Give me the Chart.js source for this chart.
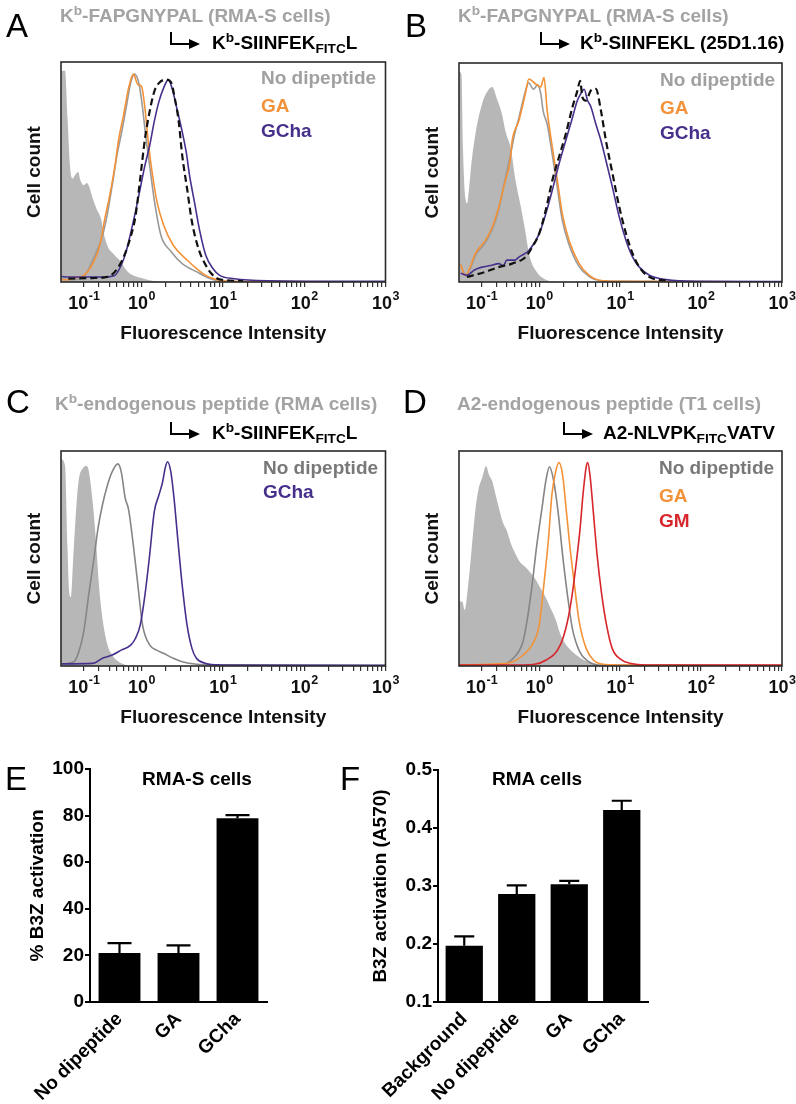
<!DOCTYPE html>
<html>
<head>
<meta charset="utf-8">
<script src="https://cdn.jsdelivr.net/npm/chart.js@4.4.1/dist/chart.umd.min.js"></script>
<style>
  body { margin:0; background:#fff; }
  #fig { position:relative; width:796px; height:1104px; overflow:hidden; font-family:'Liberation Sans', Arial, Helvetica, sans-serif; }
  canvas { position:absolute; }
  .t { position:absolute; white-space:nowrap; line-height:1; font-weight:bold; font-size:19px; transform:translateY(-50%); color:#000; }
  .c { transform:translate(-50%,-50%); }
  .letter { position:absolute; font-size:33px; line-height:1; transform:translateY(-50%); }
  .grey { color:#a3a3a3; }
  sup { font-size:0.72em; vertical-align:0; position:relative; top:-0.5em; }
  sub { font-size:0.72em; vertical-align:0; position:relative; top:0.28em; }
  .arr { position:absolute; width:19px; height:11px; border-left:2px solid #000; border-bottom:2px solid #000; }
  .arr::after { content:''; position:absolute; left:17px; bottom:-6px; border-left:11px solid #000; border-top:5px solid transparent; border-bottom:5px solid transparent; }
</style>
</head>
<body>
<div id="fig">
  <canvas id="cA" width="400" height="345" style="left:0;top:0"></canvas>
  <canvas id="cB" width="398" height="345" style="left:398px;top:0"></canvas>
  <canvas id="cC" width="400" height="345" style="left:0;top:384px"></canvas>
  <canvas id="cD" width="398" height="345" style="left:398px;top:384px"></canvas>
  <canvas id="cE" width="300" height="354" style="left:0;top:750px"></canvas>
  <canvas id="cF" width="350" height="354" style="left:330px;top:750px"></canvas>

  <div class="letter" style="left:6px;top:25px">A</div>
  <div class="t grey" style="left:60px;top:15px">K<sup>b</sup>-FAPGNYPAL (RMA-S cells)</div>
  <div class="arr" style="left:170px;top:32px"></div>
  <div class="t" style="left:212px;top:42px">K<sup>b</sup>-SIINFEK<sub>FITC</sub>L</div>
  <div class="t" style="left:261px;top:77px;color:#a0a0a0">No dipeptide</div>
  <div class="t" style="left:261px;top:105px;color:#f39239">GA</div>
  <div class="t" style="left:261px;top:130px;color:#47308c">GCha</div>

  <div class="letter" style="left:405px;top:25px">B</div>
  <div class="t grey" style="left:458px;top:15px">K<sup>b</sup>-FAPGNYPAL (RMA-S cells)</div>
  <div class="arr" style="left:540px;top:32px"></div>
  <div class="t" style="left:580px;top:42px">K<sup>b</sup>-SIINFEKL (25D1.16)</div>
  <div class="t" style="left:660px;top:79px;color:#a0a0a0">No dipeptide</div>
  <div class="t" style="left:660px;top:107px;color:#f39239">GA</div>
  <div class="t" style="left:660px;top:132px;color:#47308c">GCha</div>

  <div class="letter" style="left:6px;top:401px">C</div>
  <div class="t grey" style="left:55px;top:403px">K<sup>b</sup>-endogenous peptide (RMA cells)</div>
  <div class="arr" style="left:170px;top:422px"></div>
  <div class="t" style="left:212px;top:432px">K<sup>b</sup>-SIINFEK<sub>FITC</sub>L</div>
  <div class="t" style="left:263px;top:467px;color:#787878">No dipeptide</div>
  <div class="t" style="left:263px;top:491px;color:#47308c">GCha</div>

  <div class="letter" style="left:403px;top:401px">D</div>
  <div class="t grey" style="left:457px;top:403px">A2-endogenous peptide (T1 cells)</div>
  <div class="arr" style="left:563px;top:422px"></div>
  <div class="t" style="left:603px;top:432px">A2-NLVPK<sub>FITC</sub>VATV</div>
  <div class="t" style="left:659px;top:467px;color:#787878">No dipeptide</div>
  <div class="t" style="left:659px;top:495px;color:#f39239">GA</div>
  <div class="t" style="left:659px;top:520px;color:#d7262c">GM</div>

  <div class="letter" style="left:5px;top:778px">E</div>
  <div class="t c" style="left:197px;top:778px">RMA-S cells</div>
  <div class="letter" style="left:340px;top:778px">F</div>
  <div class="t c" style="left:537px;top:778px">RMA cells</div>
</div>
<script>
// histogram curves: [display log units, % of max count]
const A_FILL  = [[-0.99,0],[-0.985,96],[-0.94,96],[-0.91,75],[-0.88,53],[-0.85,47],[-0.81,49],[-0.78,50],[-0.75,46],[-0.71,44],[-0.67,45],[-0.64,43],[-0.6,38],[-0.55,33],[-0.5,29],[-0.45,20],[-0.4,15],[-0.35,13],[-0.3,11],[-0.25,9],[-0.2,6],[-0.15,4],[-0.1,3],[0,1.8],[0.1,0.8],[0.2,0.2],[0.3,0]];
const A_NODIP = [[-0.98,1.5],[-0.9,1],[-0.8,1.2],[-0.71,2.3],[-0.6,10],[-0.48,21],[-0.42,31],[-0.36,44],[-0.3,58],[-0.25,67],[-0.19,79],[-0.13,91],[-0.086,94.5],[-0.03,90],[0.01,80],[0.05,67],[0.1,53],[0.16,36.5],[0.24,21],[0.36,14],[0.5,8.4],[0.68,4.6],[0.85,1.5],[0.96,0.5],[1.2,0.2],[3,0.1]];
const A_GA    = [[-0.98,1],[-0.9,1],[-0.83,1.8],[-0.71,3],[-0.59,9],[-0.51,17],[-0.45,29],[-0.39,39.5],[-0.33,52],[-0.28,65],[-0.22,76],[-0.16,88],[-0.1,94.5],[-0.045,89.7],[0,89],[0.042,79],[0.088,62],[0.13,50],[0.19,36.5],[0.27,26],[0.39,16.7],[0.56,10],[0.68,6],[0.79,3],[0.91,1.2],[1.02,0.4],[1.3,0.2],[3,0.1]];
const A_GCHA  = [[-0.98,2.5],[-0.9,2.3],[-0.7,2.3],[-0.48,2.3],[-0.33,3],[-0.25,7.6],[-0.19,13.7],[-0.13,22.8],[-0.074,32],[-0.016,42.5],[0.042,53],[0.1,62],[0.157,73],[0.214,82],[0.27,88],[0.33,92],[0.376,88],[0.434,79],[0.49,70],[0.55,59],[0.59,48.6],[0.65,36.5],[0.71,24.3],[0.79,12.2],[0.88,6],[0.96,3],[1.14,1.5],[1.55,0.6],[3,0.3]];
const A_DASH  = [[-0.9,1.5],[-0.6,1.8],[-0.42,2.3],[-0.25,9],[-0.13,21],[-0.074,30],[-0.016,47],[0.042,65],[0.1,77.5],[0.157,86.6],[0.214,90.4],[0.3,92],[0.36,91],[0.417,82],[0.457,73],[0.5,57.7],[0.56,42.5],[0.62,27.4],[0.7,15.2],[0.79,7.6],[0.88,3],[0.96,1.2],[1.25,0.4]];

const B_FILL  = [[-1,0],[-0.99,96],[-0.96,95],[-0.94,60],[-0.91,38],[-0.89,36],[-0.86,45],[-0.84,53],[-0.785,68],[-0.7,82],[-0.62,88],[-0.58,89],[-0.52,83.5],[-0.465,77.5],[-0.41,68],[-0.35,61],[-0.29,46],[-0.23,35],[-0.17,23],[-0.12,12],[-0.03,4.6],[0.06,1.5],[0.15,0.3],[0.25,0]];
const B_NODIP = [[-0.97,8],[-0.912,3],[-0.85,6],[-0.788,12],[-0.664,18],[-0.58,24],[-0.5,33],[-0.42,47],[-0.36,57],[-0.3,68],[-0.25,75],[-0.17,87],[-0.13,91],[-0.07,88],[-0.02,90],[0.02,86],[0.05,78],[0.1,72],[0.163,58],[0.225,43],[0.287,28],[0.37,17],[0.494,7],[0.618,2.5],[0.742,0.7],[1,0.3],[3,0.1]];
const B_GA    = [[-0.97,8],[-0.912,3],[-0.85,7],[-0.788,13],[-0.664,19],[-0.58,25],[-0.5,34],[-0.42,46],[-0.36,55],[-0.333,64.6],[-0.25,73.7],[-0.17,86],[-0.127,92.7],[-0.043,90.4],[0.019,89],[0.06,93.4],[0.1,78],[0.163,61.5],[0.225,46.4],[0.287,31],[0.37,19],[0.494,8.4],[0.618,3],[0.742,0.8],[1,0.3],[3,0.1]];
const B_GCHA  = [[-0.97,4],[-0.892,3.1],[-0.8,5.5],[-0.706,6.8],[-0.6,7.5],[-0.5,8.4],[-0.44,7.5],[-0.4,10],[-0.3,10],[-0.251,11.4],[-0.127,14.4],[0,22],[0.081,31],[0.163,42],[0.246,54],[0.329,64.6],[0.411,75],[0.473,83],[0.515,86],[0.556,88],[0.597,83],[0.639,80],[0.701,72],[0.763,64.6],[0.825,55.5],[0.907,43],[0.99,29.6],[1.073,19],[1.155,11.4],[1.238,6.8],[1.362,3.1],[1.57,1.1],[1.98,0.3],[3,0.2]];
const B_DASH  = [[-0.892,2.3],[-0.664,4.6],[-0.499,6.8],[-0.333,8.4],[-0.168,11.4],[-0.085,16],[0,22.1],[0.081,32.7],[0.163,46.4],[0.246,57.2],[0.329,67.6],[0.411,79.8],[0.473,87.4],[0.506,91.9],[0.535,84.3],[0.577,82.8],[0.639,87.4],[0.701,88.2],[0.763,78.3],[0.825,64.6],[0.907,49.4],[0.99,34.2],[1.073,22.1],[1.155,12.9],[1.238,6.8],[1.362,2.3],[1.6,0.5]];

const C_FILL  = [[-0.99,0],[-0.985,96],[-0.94,93],[-0.91,55],[-0.89,35],[-0.87,32],[-0.84,50],[-0.8,75],[-0.77,87],[-0.72,92],[-0.68,93],[-0.65,91],[-0.6,76],[-0.56,58],[-0.52,36],[-0.48,22],[-0.42,10],[-0.36,5],[-0.28,2],[-0.19,0.5],[-0.1,0]];
const C_NODIP = [[-0.98,1],[-0.83,2],[-0.77,6.7],[-0.71,16],[-0.65,33],[-0.59,48.5],[-0.535,64],[-0.48,75],[-0.42,84],[-0.36,90.4],[-0.29,94],[-0.25,90.4],[-0.2,78],[-0.16,73],[-0.1,56],[-0.045,37.7],[0.013,19],[0.1,9.8],[0.186,7.4],[0.27,5.9],[0.39,3.6],[0.5,2],[0.68,0.8],[0.85,0.5],[3,0.2]];
const C_GCHA  = [[-0.98,1],[-0.6,1.2],[-0.48,3.6],[-0.36,5.1],[-0.25,7.4],[-0.13,9.8],[-0.074,12.9],[-0.016,19],[0.042,33],[0.1,51.6],[0.157,71.8],[0.214,79.5],[0.26,85.7],[0.29,91.9],[0.32,95],[0.36,90.4],[0.4,78],[0.445,59.4],[0.5,37.7],[0.56,19],[0.62,8.2],[0.675,3.6],[0.79,1.2],[0.96,0.5],[3,0.3]];

const D_FILL  = [[-0.99,0],[-0.985,30],[-0.95,30],[-0.92,26],[-0.87,40],[-0.83,56],[-0.78,75],[-0.75,82],[-0.7,88],[-0.655,93],[-0.62,89],[-0.58,86],[-0.54,80],[-0.5,74],[-0.45,67],[-0.4,63],[-0.35,57],[-0.29,52],[-0.23,48],[-0.17,46],[-0.1,43],[-0.04,40],[0.02,36],[0.08,32],[0.14,27],[0.2,22],[0.26,15],[0.33,10],[0.4,7],[0.5,4],[0.6,2],[0.73,0.5],[0.85,0]];
const D_NODIP = [[-0.99,0.5],[-0.5,0.5],[-0.32,3.6],[-0.2,11.3],[-0.145,22],[-0.087,37.7],[-0.03,56],[0.03,72],[0.087,87],[0.128,92.7],[0.175,87],[0.233,72],[0.29,51.6],[0.35,33],[0.41,17.5],[0.5,6.7],[0.61,2],[0.73,0.5],[3,0.2]];
const D_GA    = [[-0.99,0.5],[-0.5,1],[-0.32,2],[-0.2,5],[-0.087,9.8],[0,19],[0.058,37.7],[0.116,59.4],[0.157,79.5],[0.204,90.4],[0.245,94.6],[0.29,88.8],[0.337,71.8],[0.378,56.3],[0.436,37.7],[0.495,20.6],[0.58,8.2],[0.67,2.8],[0.79,0.8],[0.96,0.5],[3,0.2]];
const D_GM    = [[-0.99,0.5],[-0.2,0.5],[0.087,2.8],[0.262,9.8],[0.349,20.6],[0.407,33],[0.465,50],[0.506,64],[0.541,79.5],[0.582,92.7],[0.6,94.6],[0.628,88.8],[0.669,71.8],[0.716,51.6],[0.774,33],[0.833,19],[0.902,8.2],[1.018,2.8],[1.134,1.2],[1.31,0.5],[3,0.4]];

// x axis: labelled decades (base 10, exponent) and the minor ticks between them
const XTICK_MAJOR = [-0.71, 0, 1, 2, 3];
const XTICK_EXP   = ['-1', '0', '1', '2', '3'];

// bar panels
const E_CATS = ['No dipeptide', 'GA', 'GCha'];
const E_VALUES = [21.0, 21.0, 78.9];
const E_ERR = [4.3, 3.3, 1.3];
const F_CATS = ['Background', 'No dipeptide', 'GA', 'GCha'];
const F_VALUES = [0.197, 0.286, 0.303, 0.431];
const F_ERR = [0.016, 0.015, 0.006, 0.016];

const GREY_FILL = '#b7b7b7', ORANGE = '#f39239', PURPLE = '#47308c', RED = '#d7262c';
const FONT = 'Liberation Sans, Arial, Helvetica, sans-serif';

Chart.defaults.animation = false;
Chart.defaults.events = [];
Chart.defaults.font.family = FONT;
Chart.defaults.plugins.legend.display = false;
Chart.defaults.plugins.tooltip.enabled = false;

const pts = a => a.map(([x, y]) => ({x, y}));

let xticks = [];
for (let d = -1; d < 3; d++) {
  for (let k = 1; k < 10; k++) {
    const v = d + Math.log10(k);
    if (v > -0.98) xticks.push(v);
  }
}
xticks.push(3);
xticks = xticks.filter(v => !XTICK_MAJOR.some(m => Math.abs(m - v) < 0.02)).concat(XTICK_MAJOR).sort((a, b) => a - b);

const frame = {
  id: 'frame',
  afterDatasetsDraw(chart) {
    const {ctx, chartArea: a} = chart;
    ctx.save();
    ctx.strokeStyle = '#2a2a2a';
    ctx.lineWidth = 1.6;
    ctx.strokeRect(a.left, a.top, a.right - a.left, a.bottom - a.top);
    ctx.restore();
  }
};

// "10" with a raised exponent under each labelled decade tick
const decadeLabels = {
  id: 'decadeLabels',
  afterDraw(chart) {
    const {ctx} = chart;
    const xs = chart.scales.x;
    const base = chart.chartArea.bottom;
    const big = 'bold 18px ' + FONT, small = 'bold 12.5px ' + FONT;
    ctx.save();
    ctx.fillStyle = '#111';
    ctx.textBaseline = 'alphabetic';
    ctx.textAlign = 'left';
    XTICK_MAJOR.forEach((v, i) => {
      ctx.font = big;
      const w1 = ctx.measureText('10').width;
      ctx.font = small;
      const w2 = ctx.measureText(XTICK_EXP[i]).width;
      const x0 = xs.getPixelForValue(v) - (w1 + w2) / 2;
      ctx.font = big;
      ctx.fillText('10', x0, base + 27);
      ctx.font = small;
      ctx.fillText(XTICK_EXP[i], x0 + w1 + 0.5, base + 18);
    });
    ctx.restore();
  }
};

function line(data, color, order, extra) {
  return Object.assign({data: pts(data), borderColor: color, borderWidth: 1.6, pointRadius: 0,
    cubicInterpolationMode: 'monotone', fill: false, order}, extra || {});
}
function area(data) {
  return {data: pts(data), backgroundColor: GREY_FILL, borderWidth: 0, pointRadius: 0,
    cubicInterpolationMode: 'monotone', fill: 'origin', order: 9};
}

function histogram(id, datasets, padTop, padRight) {
  new Chart(document.getElementById(id), {
    type: 'line',
    data: {datasets},
    options: {
      responsive: false,
      layout: {padding: {top: padTop, right: padRight, left: 0, bottom: 0}},
      scales: {
        x: {
          type: 'linear', min: -0.99, max: 3,
          afterBuildTicks: s => { s.ticks = xticks.map(v => ({value: v})); },
          afterFit: s => { s.height = 63; },
          ticks: {autoSkip: false, maxRotation: 0, minRotation: 0, callback: () => ''},
          grid: {drawOnChartArea: false, tickLength: 5, color: '#333', lineWidth: 1.2},
          border: {display: false},
          title: {display: true, text: 'Fluorescence Intensity', color: '#111',
            font: {size: 19, weight: 'bold'}, padding: {top: 0, bottom: 0}}
        },
        y: {
          type: 'linear', min: 0, max: 100,
          afterFit: s => { s.width = 61; },
          ticks: {display: false},
          grid: {display: false},
          border: {display: false},
          title: {display: true, text: 'Cell count', color: '#111',
            font: {size: 19, weight: 'bold'}, padding: {top: 23, bottom: 0}}
        }
      }
    },
    plugins: [frame, decadeLabels]
  });
}

histogram('cA', [
  line(A_DASH, '#111', 1, {borderDash: [7, 4], borderWidth: 2.2}),
  line(A_GCHA, PURPLE, 2),
  line(A_GA, ORANGE, 3),
  line(A_NODIP, '#999', 4),
  area(A_FILL)
], 62, 14.5);

histogram('cB', [
  line(B_DASH, '#111', 1, {borderDash: [7, 4], borderWidth: 2.2}),
  line(B_GCHA, PURPLE, 2),
  line(B_GA, ORANGE, 3),
  line(B_NODIP, '#999', 4),
  area(B_FILL)
], 63, 14);

histogram('cC', [
  line(C_GCHA, PURPLE, 2),
  line(C_NODIP, '#858585', 4),
  area(C_FILL)
], 67, 14.5);

histogram('cD', [
  line(D_GM, RED, 1),
  line(D_GA, ORANGE, 2),
  line(D_NODIP, '#858585', 3),
  area(D_FILL)
], 67, 14);

const errorBars = {
  id: 'errorBars',
  afterDatasetsDraw(chart, args, opts) {
    const {ctx} = chart;
    const ys = chart.scales.y;
    const vals = chart.data.datasets[0].data;
    ctx.save();
    ctx.strokeStyle = '#000';
    ctx.lineWidth = 2.2;
    chart.getDatasetMeta(0).data.forEach((bar, i) => {
      const top = ys.getPixelForValue(vals[i] + opts.err[i]);
      ctx.beginPath();
      ctx.moveTo(bar.x, bar.y);
      ctx.lineTo(bar.x, top);
      ctx.moveTo(bar.x - opts.cap / 2, top);
      ctx.lineTo(bar.x + opts.cap / 2, top);
      ctx.stroke();
    });
    ctx.restore();
  }
};

function barChart(id, cats, vals, err, yopts, yTitle, yWidth, titlePad, padTop, padRight, cap) {
  new Chart(document.getElementById(id), {
    type: 'bar',
    data: {labels: cats, datasets: [{data: vals, backgroundColor: '#000', borderWidth: 0,
      barPercentage: 0.71, categoryPercentage: 1}]},
    options: {
      responsive: false,
      layout: {padding: {top: padTop, right: padRight, left: 0, bottom: 0}},
      plugins: {errorBars: {err, cap}},
      scales: {
        x: {
          afterFit: s => { s.height = 102; },
          grid: {display: false, drawTicks: false},
          border: {color: '#000', width: 2},
          ticks: {autoSkip: false, minRotation: 45, maxRotation: 45, padding: 6, color: '#000',
            font: {size: 19, weight: 'bold'}}
        },
        y: Object.assign({
          afterFit: s => { s.width = yWidth; },
          grid: {drawOnChartArea: false, tickLength: 5, color: '#000', lineWidth: 2},
          border: {color: '#000', width: 2},
          title: {display: true, text: yTitle, color: '#000', font: {size: 19, weight: 'bold'},
            padding: {top: titlePad, bottom: 0}}
        }, yopts)
      }
    },
    plugins: [errorBars]
  });
}

barChart('cE', E_CATS, E_VALUES, E_ERR,
  {min: 0, max: 100, ticks: {stepSize: 20, padding: 1, color: '#000', font: {size: 19, weight: 'bold'}}},
  '% B3Z activation', 90, 26, 19, 33, 24);

barChart('cF', F_CATS, F_VALUES, F_ERR,
  {min: 0.1, max: 0.5, ticks: {stepSize: 0.1, padding: 1, color: '#000', font: {size: 19, weight: 'bold'},
    callback: v => v.toFixed(1)}},
  'B3Z activation (A570)', 108, 39, 20, 32, 20);
</script>
</body>
</html>
